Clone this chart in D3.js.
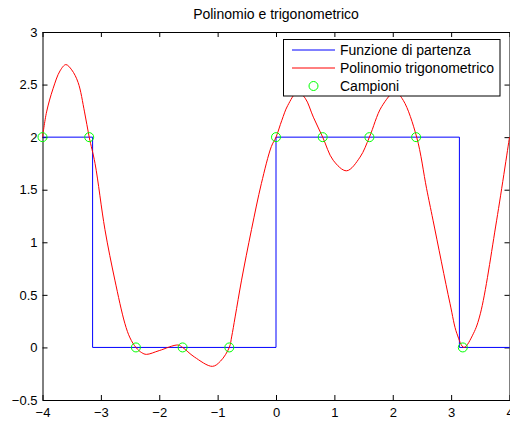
<!DOCTYPE html>
<html>
<head>
<meta charset="utf-8">
<script src="https://cdn.jsdelivr.net/npm/d3@7"></script>
<style>
  html, body { margin: 0; padding: 0; background: #fff; }
  svg { display: block; font-family: "Liberation Sans", Arial, Helvetica, sans-serif; }
</style>
</head>
<body>
<svg id="chart" width="510" height="421"></svg>
<script>
// Square wave (starting function)
const stepX = [-4, -3.1416, -3.1416, 0, 0, 3.1416, 3.1416, 4];
const stepY = [2, 2, 0, 0, 2, 2, 0, 0];

// Trigonometric polynomial, sampled along the curve
const polyX = [-4.00, -3.93, -3.82, -3.70, -3.60, -3.50, -3.39, -3.28, -3.20, -3.10, -2.93, -2.76, -2.59, -2.50, -2.40,
               -2.30, -2.22, -2.00, -1.68, -1.60, -1.40, -1.09, -0.95, -0.80, -0.76, -0.70, -0.59, -0.42, -0.25, -0.08, 0.00,
               0.10, 0.20, 0.37, 0.50, 0.64, 0.80, 0.98, 1.21, 1.44, 1.60, 1.81, 2.04, 2.18, 2.41,
               2.58, 2.69, 2.98, 3.10, 3.22, 3.38, 3.50, 3.78, 4.00];
const polyY = [2.00, 2.24, 2.46, 2.63, 2.69, 2.64, 2.52, 2.24, 2.00, 1.75, 1.12, 0.64, 0.23, 0.09, 0.00,
               -0.05, -0.066, -0.03, 0.023, 0.00, -0.09, -0.18, -0.13, 0.00, 0.10, 0.29, 0.64, 1.12, 1.56, 1.91, 2.00,
               2.16, 2.30, 2.43, 2.37, 2.19, 2.00, 1.78, 1.68, 1.81, 2.00, 2.29, 2.43, 2.35, 2.00,
               1.51, 1.21, 0.42, 0.13, 0.00, 0.13, 0.32, 1.21, 2.00];

// Interpolation nodes (samples)
const sampleX = [-4, -3.2, -2.4, -1.6, -0.8, 0, 0.8, 1.6, 2.4, 3.2];
const sampleY = [2, 2, 0, 0, 0, 2, 2, 2, 2, 0];

// Axis ticks
const xTicks = [-4, -3, -2, -1, 0, 1, 2, 3, 4];
const yTicks = [-0.5, 0, 0.5, 1, 1.5, 2, 2.5, 3];

const titleText = "Polinomio e trigonometrico";
const legendLabels = ["Funzione di partenza", "Polinomio trigonometrico", "Campioni"];
const colors = { step: "#0000ff", poly: "#ff0000", sample: "#00ff00" };

const svg = d3.select("#chart");
const plotLeft = 42.5, plotRight = 509.5, plotTop = 32, plotBottom = 400;

const x = d3.scaleLinear().domain([-4, 4]).range([plotLeft, plotRight]);
const y = d3.scaleLinear().domain([-0.5, 3]).range([plotBottom, plotTop]);

const fmt = d => String(d).replace("-", "\u2212");

// Axes: ticks point inward on all four sides
const gx = svg.append("g").attr("transform", `translate(0,${plotBottom})`)
  .call(d3.axisBottom(x).tickValues(xTicks).tickFormat(fmt).tickSizeInner(-5).tickSizeOuter(0).tickPadding(8));
const gxt = svg.append("g").attr("transform", `translate(0,${plotTop})`)
  .call(d3.axisTop(x).tickValues(xTicks).tickFormat("").tickSizeInner(-5).tickSizeOuter(0));
const gy = svg.append("g").attr("transform", `translate(${plotLeft},0)`)
  .call(d3.axisLeft(y).tickValues(yTicks).tickFormat(fmt).tickSizeInner(-5).tickSizeOuter(0).tickPadding(5));
const gyr = svg.append("g").attr("transform", `translate(${plotRight},0)`)
  .call(d3.axisRight(y).tickValues(yTicks).tickFormat("").tickSizeInner(-5).tickSizeOuter(0));

[gx, gxt, gy, gyr].forEach(g => {
  g.selectAll("path.domain").attr("stroke", "#000").attr("stroke-width", 1);
  g.selectAll(".tick line").attr("stroke", "#000").attr("stroke-width", 1);
  g.selectAll(".tick text").attr("fill", "#000").attr("font-size", 13)
    .attr("font-family", "Liberation Sans, Arial, sans-serif");
});

// Title
svg.append("text")
  .attr("x", (plotLeft + plotRight) / 2).attr("y", 18.5)
  .attr("text-anchor", "middle").attr("font-size", 14).attr("fill", "#000")
  .text(titleText);

// Starting function
const stepData = stepX.map((v, i) => [v, stepY[i]]);
svg.append("path")
  .datum(stepData)
  .attr("fill", "none").attr("stroke", colors.step).attr("stroke-width", 1)
  .attr("d", d3.line().x(d => x(d[0])).y(d => y(d[1])));

// Trigonometric polynomial
const polyData = polyX.map((v, i) => [v, polyY[i]]);
svg.append("path")
  .datum(polyData)
  .attr("fill", "none").attr("stroke", colors.poly).attr("stroke-width", 1)
  .attr("d", d3.line().curve(d3.curveCatmullRom.alpha(0.5)).x(d => x(d[0])).y(d => y(d[1])));

// Samples
svg.append("g").selectAll("circle")
  .data(sampleX.map((v, i) => [v, sampleY[i]]))
  .join("circle")
  .attr("cx", d => x(d[0])).attr("cy", d => y(d[1])).attr("r", 4.5)
  .attr("fill", "none").attr("stroke", colors.sample).attr("stroke-width", 1);

// Legend
const lg = svg.append("g");
lg.append("rect")
  .attr("x", 283.5).attr("y", 39.5).attr("width", 216.5).attr("height", 56.5)
  .attr("fill", "#fff").attr("stroke", "#000").attr("stroke-width", 1);
const rowY = [50, 68, 86];
lg.append("line").attr("x1", 292).attr("x2", 335).attr("y1", rowY[0]).attr("y2", rowY[0])
  .attr("stroke", colors.step).attr("stroke-width", 1);
lg.append("line").attr("x1", 292).attr("x2", 335).attr("y1", rowY[1]).attr("y2", rowY[1])
  .attr("stroke", colors.poly).attr("stroke-width", 1);
lg.append("circle").attr("cx", 313.5).attr("cy", rowY[2]).attr("r", 4.5)
  .attr("fill", "none").attr("stroke", colors.sample).attr("stroke-width", 1);
lg.selectAll("text.lbl")
  .data(legendLabels)
  .join("text")
  .attr("class", "lbl")
  .attr("x", 340).attr("y", (d, i) => rowY[i] + 5)
  .attr("font-size", 14).attr("fill", "#000")
  .text(d => d);
</script>
</body>
</html>
